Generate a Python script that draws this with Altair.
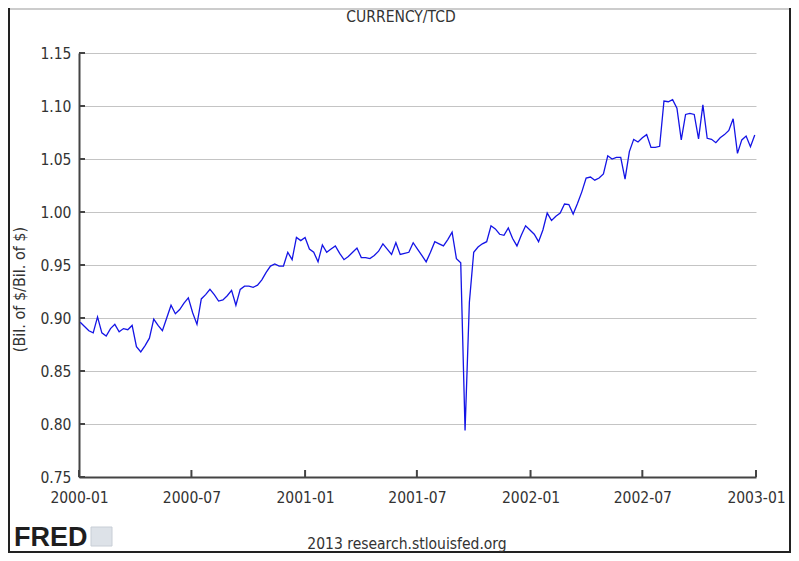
import altair as alt
import pandas as pd

# ---- data (weekly, first week ending 2000-01-03) ----
first_week = "2000-01-03"
vals_2000 = [0.896, 0.892, 0.888, 0.886, 0.901, 0.886, 0.883, 0.890, 0.894, 0.887,
             0.890, 0.889, 0.893, 0.873, 0.868, 0.874, 0.881, 0.899, 0.893, 0.888,
             0.900, 0.912, 0.904, 0.908, 0.914, 0.919, 0.905, 0.894, 0.918, 0.922,
             0.927, 0.922, 0.916, 0.917, 0.921, 0.926, 0.912, 0.927, 0.930, 0.930,
             0.929, 0.931, 0.936, 0.943, 0.949, 0.951, 0.949, 0.949, 0.962, 0.955,
             0.976, 0.973]
vals_2001 = [0.976, 0.965, 0.962, 0.953, 0.969, 0.962, 0.965, 0.968,
             0.961, 0.955, 0.958, 0.962, 0.966, 0.957, 0.957, 0.956, 0.959, 0.963,
             0.970, 0.965, 0.960, 0.971, 0.960, 0.961, 0.962, 0.971, 0.965, 0.959,
             0.953, 0.962, 0.972, 0.970, 0.968, 0.974, 0.981, 0.956, 0.952, 0.794,
             0.915, 0.962, 0.967, 0.970, 0.972, 0.987, 0.984, 0.979, 0.978, 0.985,
             0.975, 0.968, 0.978, 0.987, 0.983]
vals_2002 = [0.979, 0.972, 0.983, 0.999, 0.992,
             0.996, 0.999, 1.0075, 1.007, 0.998, 1.008, 1.019, 1.032, 1.033, 1.030,
             1.032, 1.036, 1.053, 1.050, 1.0515, 1.0515, 1.031, 1.057, 1.0685, 1.066,
             1.070, 1.073, 1.061, 1.061, 1.062, 1.1047, 1.104, 1.106, 1.098, 1.068,
             1.092, 1.093, 1.092, 1.069, 1.101, 1.0695, 1.0686, 1.0654, 1.070, 1.073,
             1.077, 1.088, 1.0553, 1.068, 1.0716, 1.0616, 1.0727]

x_tick_dates = ["2000-01-01", "2000-07-01", "2001-01-01", "2001-07-01",
                "2002-01-01", "2002-07-01", "2003-01-01"]
y_tick_values = [0.75, 0.80, 0.85, 0.90, 0.95, 1.00, 1.05, 1.10, 1.15]

title_text = "CURRENCY/TCD"
y_title = "(Bil. of $/Bil. of $)"
footer_text = "2013 research.stlouisfed.org"
logo_text = "FRED"

values = vals_2000 + vals_2001 + vals_2002
dates = pd.date_range(first_week, periods=len(values), freq="7D").strftime("%Y-%m-%d")
df = pd.DataFrame({"date": dates, "ratio": values})
df_xt = pd.DataFrame({"d": x_tick_dates})
df_yt = pd.DataFrame({"v": y_tick_values})
one = pd.DataFrame({"t": [0]})

FONT = "DejaVu Sans Condensed"
TXT = "#333333"
AX = "#444444"

def dt(s):
    y, m, d = (int(p) for p in s.split("-"))
    return alt.DateTime(year=y, month=m, date=d, utc=True)

xscale = alt.Scale(type="utc", domain=[dt("2000-01-01"), dt("2003-01-01")])
yscale = alt.Scale(domain=[0.75, 1.15], nice=False, zero=False)

line = alt.Chart(df).mark_line(color="#1414e6", strokeWidth=1.3).encode(
    x=alt.X("date:T", scale=xscale,
            axis=alt.Axis(values=[dt(s) for s in x_tick_dates],
                          labelExpr="utcFormat(datum.value, '%Y-%m')",
                          title=None, ticks=False, tickSize=0,
                          grid=False, labelPadding=13, labelFontSize=15.5,
                          labelFont=FONT, labelColor=TXT, domainColor=AX,
                          domainWidth=2, labelFlush=False)),
    y=alt.Y("ratio:Q", scale=yscale,
            axis=alt.Axis(values=y_tick_values, format=".2f", ticks=False, tickSize=0,
                          grid=True, gridColor="#c4c4c4", gridWidth=1,
                          labelPadding=8, labelFontSize=15.5, labelFont=FONT,
                          labelColor=TXT, domainColor=AX, domainWidth=2,
                          title=y_title, titleFont=FONT, titleFontSize=16,
                          titleFontWeight="normal", titleColor=TXT,
                          titleX=-60, titleY=236, titleAngle=270,
                          titleAlign="center", titleBaseline="middle")),
)

xticks = alt.Chart(df_xt).mark_rule(color=AX, strokeWidth=2).encode(
    x=alt.X("d:T", scale=xscale), y=alt.value(424), y2=alt.value(417))
yticks = alt.Chart(df_yt).mark_rule(color=AX, strokeWidth=2).encode(
    y=alt.Y("v:Q", scale=yscale), x=alt.value(0), x2=alt.value(6))

title = alt.Chart(pd.DataFrame({"t": [title_text]})).mark_text(
    font=FONT, fontSize=15.5, color=TXT, align="center", baseline="alphabetic"
).encode(text="t:N", x=alt.value(322), y=alt.value(-31))

footer = alt.Chart(pd.DataFrame({"t": [footer_text]})).mark_text(
    font=FONT, fontSize=15.5, color=TXT, align="center", baseline="alphabetic"
).encode(text="t:N", x=alt.value(328), y=alt.value(496))

logo = alt.Chart(pd.DataFrame({"t": [logo_text]})).mark_text(
    font="Liberation Sans", fontSize=27, fontWeight="bold", color="#1e1e1e",
    align="left", baseline="alphabetic"
).encode(text="t:N", x=alt.value(-65), y=alt.value(493))

icon = alt.Chart(one).mark_rect(
    fill="#dde2e8", stroke="#c8ced6", strokeWidth=1
).encode(x=alt.value(12), x2=alt.value(33), y=alt.value(474), y2=alt.value(493))

# page frame: dark left/right/bottom, light top
edge = dict(color="#222222", strokeWidth=2)
frame_left = alt.Chart(one).mark_rule(**edge).encode(
    x=alt.value(-70), y=alt.value(-45), y2=alt.value(500))
frame_right = alt.Chart(one).mark_rule(**edge).encode(
    x=alt.value(711), y=alt.value(-45), y2=alt.value(500))
frame_bottom = alt.Chart(one).mark_rule(**edge).encode(
    y=alt.value(499), x=alt.value(-71), x2=alt.value(712))
frame_top = alt.Chart(one).mark_rule(color="#bbbbbb", strokeWidth=1.5).encode(
    y=alt.value(-44), x=alt.value(-71), x2=alt.value(712))

chart = alt.layer(frame_top, frame_left, frame_right, frame_bottom,
                  line, xticks, yticks, title, footer, logo, icon).properties(
    width=677, height=424,
    padding={"left": 71, "top": 45, "right": 35, "bottom": 76},
    autosize=alt.AutoSizeParams(type="none"),
    background="white",
).configure_view(stroke=None)

chart.save("out.html", embed_options={"renderer": "svg", "actions": False})
